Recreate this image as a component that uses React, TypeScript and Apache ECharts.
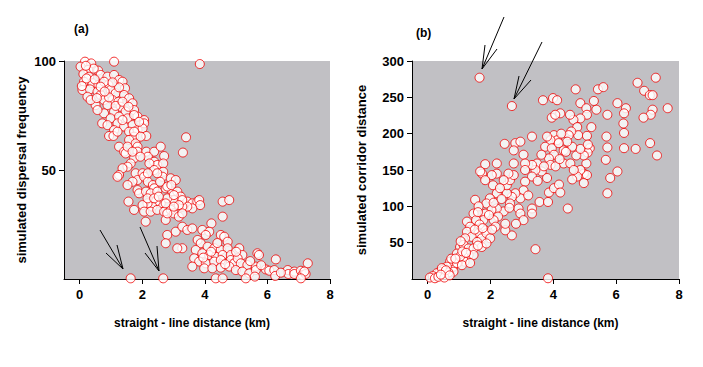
import React, { useEffect, useRef } from "react";
import * as echarts from "echarts";

const xTicks = [0, 2, 4, 6, 8];
const yTicksA = [50, 100];
const yTicksB = [50, 100, 150, 200, 250, 300];

// Panel (a): straight-line distance (km) vs simulated dispersal frequency
const dataA: number[][] = [
  [0.17, 99.7], [0.37, 98.9], [0.03, 97.4], [1.1, 99.7], [3.84, 98.6],
  [0.27, 95.9], [0.59, 95.6], [0.12, 94], [0.3, 92.8], [0.67, 93.6], [0.89, 92.8], [1.1, 93.6],
  [1.26, 91.3], [1.37, 90.5], [0.14, 90.5], [0.41, 89.8], [0.6, 89], [0.92, 89], [1.45, 87.5],
  [0.09, 86.7], [0.33, 87], [0.57, 85.9], [0.99, 86.7], [1.15, 85.2], [1.42, 84.4], [1.58, 82.9],
  [0.25, 83.6], [0.67, 84.4], [0.78, 82.1], [1.05, 82.1], [1.24, 81.3], [0.51, 79.8], [0.89, 79.8],
  [1.31, 79], [1.69, 80.6], [1.74, 77.5], [1.47, 76.8], [1.1, 76.8], [0.78, 76], [0.57, 77.5],
  [0.99, 73.7], [1.26, 74.5], [1.53, 73.7], [1.85, 74.5], [2.06, 72.9], [0.72, 71.4], [0.89, 70.6],
  [1.21, 71.4], [1.42, 69.9], [1.69, 70.6], [2.06, 71.4], [1.1, 68.3], [1.58, 67.6], [1.85, 68.3],
  [2.01, 69.1], [0.94, 65.6], [1.08, 65.6], [2.13, 65.6], [1.74, 65.3], [1.58, 63.8], [1.79, 62.2],
  [1.85, 60.7], [1.26, 60.7], [1.42, 58.4], [1.47, 57.6], [1.85, 58.4], [2.13, 58.4], [2.38, 58.4],
  [2.59, 60.7], [2.18, 56.1], [2.7, 56.4], [2.38, 53.8], [2.48, 52.3], [1.74, 55.4], [1.63, 53],
  [1.53, 51.5], [1.37, 50.8], [1.26, 47.7], [1.21, 46.9], [2.67, 53], [2.67, 49.2], [2.65, 46.9],
  [2.91, 46.2], [3.07, 45.4], [1.79, 48.5], [1.85, 45.4], [1.69, 44.6], [1.53, 43.1], [2.01, 48.5],
  [2.06, 46.9], [2.18, 44.6], [2.34, 43.1], [2.38, 41.6], [1.85, 40.8], [1.9, 39.3], [2.12, 40.1],
  [2.27, 39.3], [2.48, 40.1], [2.75, 41.6], [2.96, 40.1], [3.12, 40.1], [3.23, 37.8], [3.44, 35.5],
  [3.6, 34.7], [3.76, 35.5], [3.82, 36.2], [3.85, 33.9], [3.6, 32.4], [3.44, 33.2], [3.28, 33.2],
  [3.01, 36.2], [2.8, 37], [2.59, 34.7], [2.43, 35.5], [2.32, 33.2], [2.17, 34.7], [2.01, 33.9],
  [2.06, 30.9], [2.27, 30.9], [2.48, 31.7], [2.7, 30.9], [2.91, 31.7], [3.01, 30.1], [3.17, 28.6],
  [2.75, 27.1], [2.11, 26.3], [1.56, 35.5], [1.74, 31.7], [4.57, 35.5], [4.78, 36.2], [4.57, 28.6],
  [4.21, 25.5], [2.8, 20.2], [2.75, 16.4], [3.07, 21.7], [3.28, 24], [3.28, 14.1], [3.12, 14.1],
  [3.44, 22.5], [3.6, 23.2], [3.92, 22.5], [4.14, 21.7], [4.03, 20.2], [4.51, 20.2], [4.62, 19.4],
  [4.73, 17.1], [3.77, 17.9], [3.87, 16.4], [4.09, 14.8], [4.3, 14.1], [4.51, 13.3], [4.73, 14.1],
  [5.1, 14.1], [3.71, 13.3], [3.92, 11.8], [4.14, 11], [4.35, 10.2], [4.57, 11], [4.83, 11],
  [5.2, 11], [5.68, 11.8], [5.73, 11], [3.66, 9.5], [3.82, 8], [4.03, 7.2], [4.3, 8], [4.51, 8.7],
  [4.83, 8.7], [4.94, 7.2], [5.05, 9.5], [5.15, 7.2], [5.36, 6.4], [5.63, 5.7], [3.6, 5.7],
  [3.98, 4.9], [4.24, 4.9], [4.51, 5.2], [4.78, 5.7], [4.99, 4.1], [5.2, 3.4], [5.42, 2.6],
  [5.63, 4.1], [5.95, 4.4], [6.06, 3.8], [6.22, 4.1], [6.27, 9], [6.25, 1.4], [6.65, 4.1],
  [6.67, 2.3], [6.86, 3.4], [6.86, 2.3], [7.07, 3.8], [7.12, 1.8], [7.22, 2.3], [7.29, 7.2],
  [7.18, 3.4], [1.63, 0.3], [2.67, 0.3], [4.35, 0.3], [4.57, 0.3], [5.31, 0.3], [5.6, 1.1],
  [7.07, 0.3], [6.43, 2.9], [3.4, 65], [3.3, 58],
  [0.07, 88.5], [0.22, 92], [0.48, 91.6], [0.78, 90.5], [0.67, 88.2], [1.26, 87.9], [0.35, 82.1],
  [0.94, 83.3], [1.15, 79.4], [1.37, 81.3], [1.56, 79], [1.74, 75.2], [1.9, 72.1], [1.37, 72.9],
  [1.21, 67.6], [1.74, 67.6], [1.95, 65.3], [1.53, 60.7], [1.69, 58.4], [1.94, 56.1], [2.23, 53],
  [2.38, 50], [2.48, 48.5], [2.18, 48.5], [2.57, 44.6], [2.8, 42.4], [2.93, 43.1], [3.01, 38.5],
  [3.28, 36.2], [2.17, 37], [2.38, 37], [2.53, 37.8], [2.75, 34.7], [3.17, 33.9], [2.8, 30.1],
  [3.28, 30.1], [3.01, 33.2], [0.45, 96.5], [0.2, 97.8], [0.8, 86], [1.05, 90.2], [0.55, 83],
  [4.4, 16.5], [4.2, 12.5], [3.95, 9.8], [4.65, 6.8], [5.0, 12.5], [5.45, 8.2], [5.8, 6.3]
];

// Panel (b): straight-line distance (km) vs simulated corridor distance
const dataB: number[][] = [
  [1.65, 277], [2.68, 238], [3.43, 41], [3.83, 1], [4.46, 97],
  [4.71, 261], [5.42, 261], [5.59, 264], [6.68, 270], [7.26, 277], [6.89, 259], [7.07, 253],
  [7.16, 253], [7.64, 235], [7.16, 233], [7.1, 226], [6.87, 222], [6.04, 242], [6.31, 235],
  [6.25, 228], [6.23, 214], [6.25, 201], [6.25, 180], [6.62, 179], [7.08, 187], [7.3, 170],
  [5.69, 196], [5.72, 181], [5.67, 164], [5.81, 139], [6.04, 148], [5.72, 118], [5.72, 226],
  [5.37, 233], [5.29, 245], [4.86, 242], [5.05, 235], [5.07, 226], [4.86, 221], [4.64, 219],
  [4.53, 226], [4.22, 228], [3.95, 222], [4.06, 226], [3.99, 249], [4.12, 246], [3.67, 246],
  [4.76, 209], [4.79, 198], [4.57, 203], [4.49, 198], [5.21, 209], [5.07, 197], [5.16, 180],
  [5.09, 174], [5.05, 159], [4.97, 170], [4.73, 170], [4.86, 179], [4.6, 182], [4.44, 189],
  [4.33, 177], [4.33, 159], [4.54, 159], [4.97, 145], [5.07, 143], [4.86, 150], [4.76, 141],
  [4.6, 137], [4.97, 132], [4.02, 198], [4.12, 191], [3.91, 191], [3.8, 196], [3.74, 182],
  [3.95, 180], [4.17, 187], [4.02, 171], [3.86, 166], [3.91, 157], [4.07, 155], [3.62, 171],
  [3.48, 159], [3.63, 148], [3.8, 139], [3.43, 150], [3.32, 157], [3.32, 196], [2.79, 187],
  [2.95, 189], [2.74, 177], [2.45, 186], [3.05, 171], [3.1, 159], [3.1, 150], [3.32, 141],
  [3.1, 134], [3.05, 122], [2.95, 111], [2.79, 118], [2.68, 113], [2.52, 118], [2.62, 104],
  [2.89, 97], [2.95, 90], [3.05, 81], [3.32, 97], [3.32, 90], [3.56, 106], [3.83, 106],
  [3.86, 119], [4.02, 125], [4.18, 130], [4.22, 119], [2.81, 76], [2.68, 60], [2.47, 67],
  [2.47, 76], [2.42, 93], [2.2, 97], [2.52, 129], [2.62, 136], [2.74, 143], [2.74, 159],
  [2.57, 145], [2.2, 145], [2.42, 136], [2.2, 159], [1.83, 158], [2.04, 143], [2.08, 129],
  [1.73, 145], [1.67, 148], [1.83, 136], [2.2, 118], [1.98, 111], [1.87, 104], [2.03, 95],
  [2.24, 86], [2.1, 81], [2.16, 72], [1.83, 90], [1.77, 81], [1.83, 67], [1.62, 63], [1.72, 56],
  [1.87, 63], [1.99, 56], [1.51, 109], [1.62, 100], [1.46, 90], [1.54, 81], [1.25, 79],
  [1.35, 72], [1.25, 65], [1.4, 58], [1.19, 56], [1.57, 51], [1.72, 44], [1.87, 49], [1.03, 44],
  [1.14, 47], [1.3, 42], [1.46, 42], [1.3, 33], [1.46, 33], [1.14, 31], [0.93, 35], [1.17, 24],
  [0.96, 22], [0.82, 17], [0.71, 24], [0.61, 17], [0.5, 13], [0.82, 10], [0.66, 9], [0.39, 10],
  [0.29, 8], [0.16, 4], [0.07, 2], [0.23, 1], [0.34, 3], [0.53, 2], [0.93, 22], [1.09, 19],
  [1.35, 22], [1.03, 31], [2.3, 125], [2.1, 105], [1.95, 88], [1.65, 75], [2.05, 68], [1.5, 68],
  [1.1, 38], [0.75, 28], [0.45, 15], [1.6, 92], [2.35, 110], [2.6, 98], [3.2, 115], [3.5, 135],
  [3.7, 155], [4.25, 200], [4.4, 175], [4.2, 165], [4.65, 150], [5.1, 185],
  [0.58, 12], [0.42, 6], [0.88, 28], [1.22, 36], [1.05, 52], [1.6, 46], [1.75, 70], [0.7, 5]
];

const FONT = "Liberation Sans, Arial, sans-serif";
const bold = { fontFamily: FONT, fontWeight: "bold" as const, color: "#000" };

function axisX(gridIndex: number) {
  return {
    type: "value", gridIndex, min: -0.5, max: 8,
    name: "straight - line distance (km)", nameLocation: "middle", nameGap: 38,
    nameTextStyle: { ...bold, fontSize: 12, padding: [0, 10, 0, 0] },
    axisLine: { show: true, onZero: false, lineStyle: { color: "#000", width: 1 } },
    axisTick: { show: true, length: 5, customValues: xTicks, lineStyle: { color: "#000" } },
    axisLabel: { customValues: xTicks, margin: 9, ...bold, fontSize: 13 },
    splitLine: { show: false }
  };
}

function axisY(gridIndex: number, max: number, ticks: number[], name: string, gap: number) {
  return {
    type: "value", gridIndex, min: 0, max,
    name, nameLocation: "middle", nameGap: gap,
    nameTextStyle: { ...bold, fontSize: 13 },
    axisLine: { show: true, onZero: false, lineStyle: { color: "#000", width: 1 } },
    axisTick: { show: true, length: 5, customValues: ticks, lineStyle: { color: "#000" } },
    axisLabel: { customValues: ticks, margin: 8, ...bold, fontSize: 13 },
    splitLine: { show: false }
  };
}

const markerStyle = { color: "#ffffff", borderColor: "#f00000", borderWidth: 1 };

const arrowLines: number[][][] = [
  [[100, 230], [123, 269]], [[106, 253], [123, 269]], [[117, 245], [123, 269]],
  [[140, 227], [159, 271]], [[145, 253], [159, 271]], [[157, 246], [159, 271]],
  [[504, 17], [482, 69]], [[485, 45], [482, 69]], [[497, 49], [482, 69]],
  [[542, 42], [514, 99]], [[519, 76], [514, 99]], [[531, 80], [514, 99]]
];

export default function App() {
  const ref = useRef<HTMLDivElement>(null);
  useEffect(() => {
    if (!ref.current) return;
    const chart = echarts.init(ref.current, null, { renderer: "svg" });
    chart.setOption({
      animation: false,
      backgroundColor: "#ffffff",
      grid: [
        { left: 64, top: 61, width: 266, height: 218, show: true, backgroundColor: "#c1c0c4", borderWidth: 0 },
        { left: 412, top: 61, width: 267, height: 218, show: true, backgroundColor: "#c1c0c4", borderWidth: 0 }
      ],
      xAxis: [axisX(0), axisX(1)],
      yAxis: [
        axisY(0, 100, yTicksA, "simulated dispersal frequency", 36),
        axisY(1, 300, yTicksB, "simulated corridor distance", 44)
      ],
      series: [
        { type: "scatter", xAxisIndex: 0, yAxisIndex: 0, data: dataA, symbolSize: 9, itemStyle: markerStyle, clip: false },
        { type: "scatter", xAxisIndex: 1, yAxisIndex: 1, data: dataB, symbolSize: 9, itemStyle: markerStyle, clip: false }
      ],
      graphic: [
        { type: "text", left: 74, top: 23, style: { text: "(a)", font: "bold 12px " + FONT, fill: "#000" } },
        { type: "text", left: 416, top: 27, style: { text: "(b)", font: "bold 12px " + FONT, fill: "#000" } },
        ...arrowLines.map((l) => ({
          type: "line", z: 100,
          shape: { x1: l[0][0], y1: l[0][1], x2: l[1][0], y2: l[1][1] },
          style: { stroke: "#000", lineWidth: 1 }
        }))
      ]
    });
    return () => chart.dispose();
  }, []);
  return <div ref={ref} style={{ position: "fixed", left: 0, top: 0, width: 703, height: 367 }} />;
}
